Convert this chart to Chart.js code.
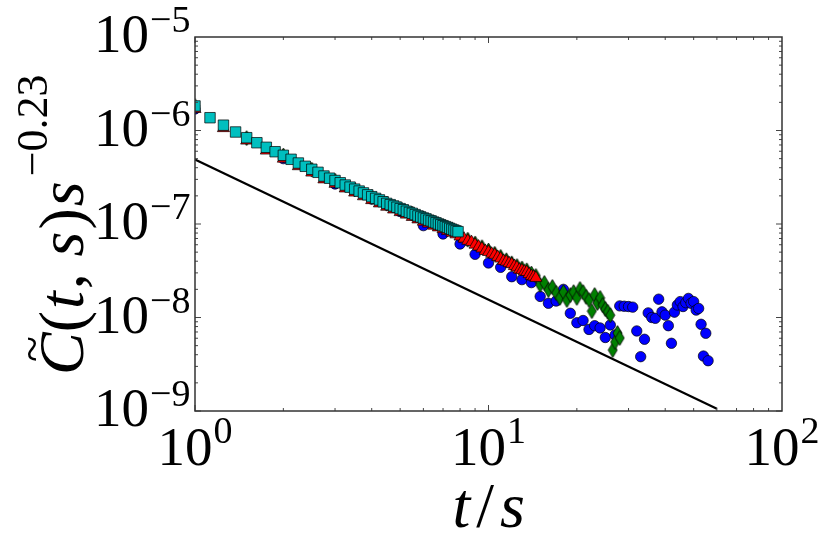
<!DOCTYPE html>
<html>
<head>
<meta charset="utf-8">
<script src="https://cdn.jsdelivr.net/npm/chart.js@4/dist/chart.umd.min.js"></script>
<style>
  html, body { margin: 0; padding: 0; background: #fff; }
  #parent { width: 830px; height: 554px; position: relative; overflow: hidden; }
  #myChart { position: absolute; left: 0; top: 0; }
  .lbl { position: absolute; left: 0; top: 0; white-space: nowrap; color: #000;
         font-family: "Liberation Serif"; font-size: 55px; line-height: 1; }
  .lbl .e { font-size: 38px; margin-left: 1px; }
  .lbl .base { display: inline-block; width: 0; height: 0; }
  .title { font-size: 64px; }
  .title i { font-style: italic; }
  .title .e { font-size: 44px; margin-left: 3px; }
  .title .cw { position: relative; display: inline-block; }
  .title .tl { position: absolute; left: 13px; top: -22px; font-size: 48px; font-style: normal; }
</style>
</head>
<body>
<div id="parent"><canvas id="myChart"></canvas></div>
<script>
// s = 8 (cyan squares)
const cyanX = [1, 1.125, 1.25, 1.375, 1.5, 1.625, 1.75, 1.875, 2, 2.125, 2.25, 2.375, 2.5, 2.625, 2.75, 2.875,
  3, 3.125, 3.25, 3.375, 3.5, 3.625, 3.75, 3.875, 4, 4.125, 4.25, 4.375, 4.5, 4.625, 4.75, 4.875,
  5, 5.125, 5.25, 5.375, 5.5, 5.625, 5.75, 5.875, 6, 6.125, 6.25, 6.375, 6.5, 6.625, 6.75, 6.875,
  7, 7.125, 7.25, 7.375, 7.5, 7.625, 7.75, 7.875];
const cyanY = [1.83e-6, 1.37e-6, 1.14e-6, 9.64e-7, 8.38e-7, 7.40e-7, 6.61e-7, 5.93e-7, 5.43e-7, 4.92e-7, 4.49e-7,
  4.14e-7, 3.85e-7, 3.57e-7, 3.26e-7, 3.09e-7, 2.92e-7, 2.76e-7, 2.61e-7, 2.48e-7, 2.36e-7, 2.25e-7, 2.15e-7,
  2.05e-7, 1.96e-7, 1.88e-7, 1.81e-7, 1.73e-7, 1.66e-7, 1.61e-7, 1.56e-7, 1.51e-7, 1.46e-7, 1.42e-7, 1.37e-7,
  1.33e-7, 1.30e-7, 1.26e-7, 1.22e-7, 1.19e-7, 1.16e-7, 1.135e-7, 1.10e-7, 1.08e-7, 1.05e-7, 1.03e-7, 1.00e-7,
  9.80e-8, 9.59e-8, 9.38e-8, 9.18e-8, 8.97e-8, 8.79e-8, 8.61e-8, 8.44e-8, 8.28e-8];

// s = 4 (red triangles)
const redX = [1, 1.25, 1.5, 1.75, 2, 2.25, 2.5, 2.75, 3, 3.25, 3.5, 3.75, 4, 4.25, 4.5, 4.75, 5, 5.25, 5.5, 5.75,
  6, 6.25, 6.5, 6.75, 7, 7.25, 7.5, 7.75, 8, 8.25, 8.5, 8.75, 9, 9.25, 9.5, 9.75, 10, 10.25, 10.5, 10.75,
  11, 11.25, 11.5, 11.75, 12, 12.25, 12.5, 12.75, 13, 13.25, 13.5, 13.75, 14, 14.25, 14.5];
const redY = [1.70e-6, 1.06e-6, 7.8e-7, 6.1e-7, 5.0e-7, 4.15e-7, 3.55e-7, 3.0e-7, 2.69e-7, 2.40e-7, 2.17e-7,
  1.98e-7, 1.80e-7, 1.66e-7, 1.53e-7, 1.43e-7, 1.34e-7, 1.26e-7, 1.19e-7, 1.12e-7, 1.06e-7, 1.01e-7, 9.6e-8,
  9.2e-8, 8.8e-8, 8.4e-8, 8.05e-8, 7.75e-8, 7.35e-8, 6.97e-8, 6.61e-8, 6.40e-8, 6.01e-8, 5.73e-8, 5.47e-8,
  5.15e-8, 5.02e-8, 4.81e-8, 4.68e-8, 4.44e-8, 4.27e-8, 4.02e-8, 3.95e-8, 3.81e-8, 3.72e-8, 3.55e-8, 3.43e-8,
  3.25e-8, 3.20e-8, 3.10e-8, 3.06e-8, 2.91e-8, 2.78e-8, 2.73e-8, 2.65e-8];

// s = 2 (green diamonds)
const greenX = [1, 1.5, 2, 2.5, 3, 3.5, 4, 4.5, 5, 5.5, 6, 6.5, 7, 7.5, 8, 8.5, 9, 9.5, 10, 10.5, 11, 11.5,
  12, 12.5, 13, 13.5, 14, 14.5, 15, 15.5, 16, 16.5, 17, 17.5, 18, 18.5, 19, 19.5, 20, 20.5, 21, 21.5,
  22, 22.5, 23, 23.5, 24, 24.5, 25, 25.5, 26, 26.5, 27, 27.5, 28];
const greenY = [1.83e-6, 8.3e-7, 5.4e-7, 3.82e-7, 2.90e-7, 2.34e-7, 1.95e-7, 1.65e-7, 1.45e-7, 1.29e-7, 1.15e-7,
  1.04e-7, 9.5e-8, 8.75e-8, 7.5e-8, 6.8e-8, 6.2e-8, 5.65e-8, 5.2e-8, 4.8e-8, 4.45e-8, 4.1e-8, 3.8e-8, 3.55e-8,
  3.35e-8, 3.2e-8, 2.95e-8, 2.78e-8, 2.23e-8, 2.34e-8, 1.97e-8, 2.12e-8, 1.83e-8, 1.62e-8, 1.87e-8, 1.54e-8,
  1.74e-8, 1.87e-8, 1.62e-8, 2.02e-8, 1.87e-8, 1.66e-8, 1.54e-8, 1.17e-8, 1.74e-8, 1.43e-8, 1.62e-8, 1.36e-8,
  1.23e-8, 1.15e-8, 1.06e-8, 4.49e-9, 5.47e-9, 6.82e-9, 6.04e-9];

// s = 1 (blue circles)
const blueX = [1, 2, 3, 4, 5, 6, 7, 8, 9, 10, 11, 12, 13, 14, 15, 16, 17, 18, 19, 20, 21, 22, 23, 24, 25, 26, 27, 28,
  29, 30, 31, 32, 33, 34, 35, 36, 37, 38, 39, 40, 41, 42, 43, 44, 45, 46, 47, 48, 49, 50, 51, 52, 53, 54, 55, 56];
const blueY = [1.70e-6, 5.0e-7, 2.68e-7, 1.85e-7, 1.36e-7, 9.6e-8, 7.82e-8, 6.11e-8, 4.74e-8, 3.83e-8, 3.44e-8,
  2.73e-8, 2.54e-8, 2.36e-8, 1.68e-8, 1.42e-8, 1.5e-8, 2.0e-8, 1.11e-8, 8.79e-9, 9.29e-9, 7.45e-9, 8.17e-9,
  7.73e-9, 6.11e-9, 8.32e-9, 6.50e-9, 1.33e-8, 1.32e-8, 1.31e-8, 1.29e-8, 7.18e-9, 3.81e-9, 5.85e-9, 1.12e-8,
  1.00e-8, 9.8e-9, 1.57e-8, 1.15e-8, 1.06e-8, 8.17e-9, 5.30e-9, 1.14e-8, 1.36e-8, 1.48e-8, 1.31e-8, 1.44e-8,
  1.60e-8, 1.42e-8, 1.48e-8, 1.20e-8, 1.25e-8, 8.46e-9, 3.87e-9, 6.78e-9, 3.45e-9];

// reference power law t^-1.5
const lineX = [1, 60];
const lineY = [4.9e-7, 1.054e-9];

const xTickValues = [1, 10, 100];
const xTickExps = ['0', '1', '2'];
const yTickValues = [1e-9, 1e-8, 1e-7, 1e-6, 1e-5];
const yTickExps = ['\u22129', '\u22128', '\u22127', '\u22126', '\u22125'];

function points(xs, ys) {
    return xs.map((x, i) => ({ x: x, y: ys[i] }));
}

function thinDiamond(w, h, fill) {
    const c = document.createElement('canvas');
    c.width = w + 2;
    c.height = h + 2;
    const g = c.getContext('2d');
    g.beginPath();
    g.moveTo(c.width / 2, 1);
    g.lineTo(c.width - 1, c.height / 2);
    g.lineTo(c.width / 2, c.height - 1);
    g.lineTo(1, c.height / 2);
    g.closePath();
    g.fillStyle = fill;
    g.fill();
    g.lineWidth = 0.8;
    g.strokeStyle = '#000';
    g.stroke();
    return c;
}

// frame and inward ticks on all four sides
const framePlugin = {
    id: 'frame',
    afterDraw(chart) {
        const { ctx, chartArea: a } = chart;
        const xs = chart.scales.x, ys = chart.scales.y;
        ctx.save();
        ctx.strokeStyle = '#444';
        ctx.lineWidth = 1;
        ctx.beginPath();
        for (let d = 0; d < 2; d++) {
            for (let m = 1; m <= 9; m++) {
                const px = xs.getPixelForValue(m * Math.pow(10, d));
                const len = m === 1 ? 6 : 3;
                ctx.moveTo(px, a.bottom); ctx.lineTo(px, a.bottom - len);
                ctx.moveTo(px, a.top); ctx.lineTo(px, a.top + len);
            }
        }
        for (let d = -9; d < -5; d++) {
            for (let m = 1; m <= 9; m++) {
                const py = ys.getPixelForValue(m * Math.pow(10, d));
                const len = m === 1 ? 6 : 3;
                ctx.moveTo(a.left, py); ctx.lineTo(a.left + len, py);
                ctx.moveTo(a.right, py); ctx.lineTo(a.right - len, py);
            }
        }
        ctx.stroke();
        ctx.lineWidth = 1.5;
        ctx.strokeStyle = '#333';
        ctx.strokeRect(a.left, a.top, a.right - a.left, a.bottom - a.top);
        ctx.restore();
    }
};

const chartSettings = {
    type: 'scatter',
    data: {
        datasets: [
            {
                data: points(cyanX, cyanY),
                pointStyle: 'rect',
                pointRadius: 7.4,
                backgroundColor: '#00bfbf',
                borderColor: '#000',
                borderWidth: 0.7
            },
            {
                data: points(redX, redY),
                pointStyle: 'triangle',
                pointRadius: 7,
                backgroundColor: '#ff0000',
                borderColor: '#000',
                borderWidth: 0.7
            },
            {
                data: points(greenX, greenY),
                pointStyle: thinDiamond(9, 15, '#008000'),
                pointRadius: 7
            },
            {
                data: points(blueX, blueY),
                pointStyle: 'circle',
                pointRadius: 5.2,
                backgroundColor: '#0000ff',
                borderColor: '#000',
                borderWidth: 0.7
            },
            {
                data: points(lineX, lineY),
                showLine: true,
                pointRadius: 0,
                borderColor: '#000',
                borderWidth: 2.2,
                fill: false
            }
        ]
    },
    options: {
        responsive: true,
        maintainAspectRatio: false,
        animation: false,
        layout: { padding: { top: 37, right: 48, left: 0, bottom: 0 } },
        plugins: {
            legend: { display: false },
            tooltip: { enabled: false }
        },
        scales: {
            x: {
                type: 'logarithmic',
                min: 1,
                max: 100,
                grid: { display: false },
                border: { display: false },
                ticks: { display: false },
                afterFit(scale) { scale.height = 143; }
            },
            y: {
                type: 'logarithmic',
                min: 1e-9,
                max: 1e-5,
                grid: { display: false },
                border: { display: false },
                ticks: { display: false },
                afterFit(scale) { scale.width = 195; }
            }
        }
    },
    plugins: [framePlugin]
};

const parent = document.getElementById('parent');
const chart = new Chart(document.getElementById('myChart').getContext('2d'), chartSettings);

// text labels as HTML, placed by their baseline
function addLabel(html, extraClass) {
    const d = document.createElement('div');
    d.className = 'lbl' + (extraClass ? ' ' + extraClass : '');
    d.innerHTML = html + '<span class="base"></span>';
    parent.appendChild(d);
    const base = d.querySelector('.base');
    return { el: d, w: d.offsetWidth, base: base.offsetTop };
}

function place(lab, left, baseline) {
    lab.el.style.left = left + 'px';
    lab.el.style.top = (baseline - lab.base) + 'px';
}

const area = chart.chartArea;

xTickValues.forEach((v, i) => {
    const px = chart.scales.x.getPixelForValue(v);
    const lab = addLabel('10<span class="e" style="vertical-align:22px">' + xTickExps[i] + '</span>');
    place(lab, px - lab.w / 2, area.bottom + 54);
});

yTickValues.forEach((v, i) => {
    const py = chart.scales.y.getPixelForValue(v);
    const lab = addLabel('10<span class="e" style="vertical-align:20px">' + yTickExps[i] + '</span>');
    place(lab, area.left - 5 - lab.w, py + 15);
});

const xTitle = addLabel('<i>t</i><span style="margin:0 6px">/</span><i>s</i>', 'title');
place(xTitle, (area.left + area.right) / 2 - xTitle.w / 2, 527);

const yTitle = addLabel('<span class="cw"><i>C</i><span class="tl">~</span></span>' +
    '<span style="letter-spacing:2px">(<i>t</i>,&thinsp;<i>s</i>)<i>s</i></span>' +
    '<span class="e" style="vertical-align:36px">\u22120.23</span>', 'title');
const yMid = (area.top + area.bottom) / 2;
yTitle.el.style.transformOrigin = '0px ' + yTitle.base + 'px';
yTitle.el.style.transform = 'rotate(-90deg)';
place(yTitle, 83, yMid + yTitle.w / 2);
</script>
</body>
</html>
